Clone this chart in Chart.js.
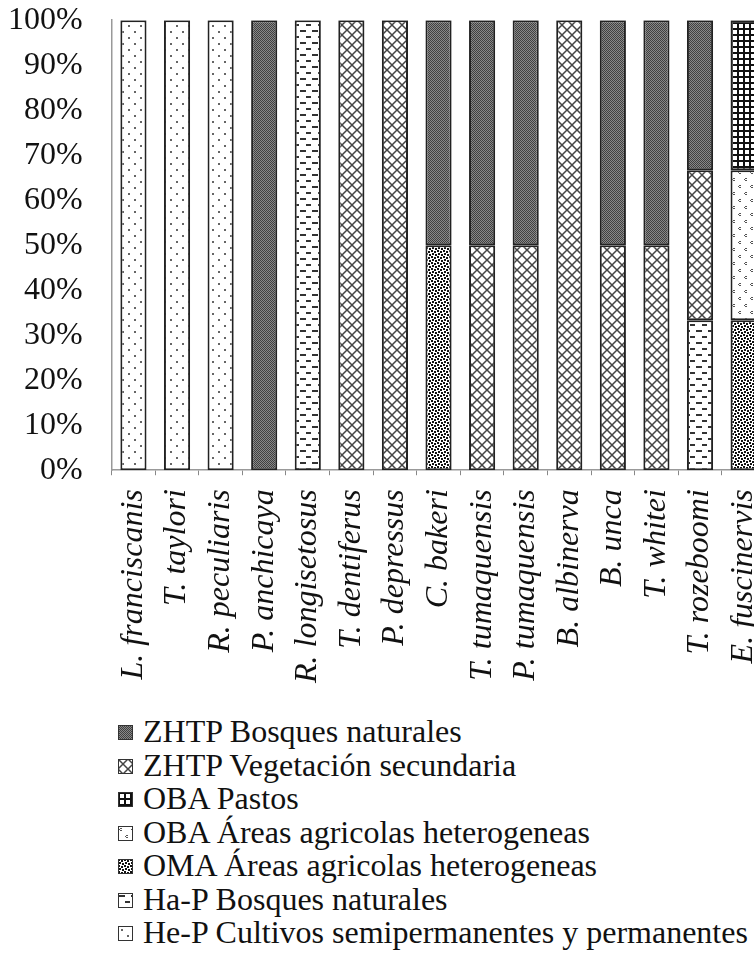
<!DOCTYPE html>
<html>
<head>
<meta charset="utf-8">
<script src="https://cdn.jsdelivr.net/npm/chart.js@4.4.0/dist/chart.umd.min.js"></script>
<style>
    html, body { margin: 0; padding: 0; background: #fff; width: 754px; height: 958px; overflow: hidden; }
    #wrap { position: absolute; left: -13px; top: -20px; width: 809px; height: 717px; }
    #legend { position: absolute; left: 118px; top: 715px; font-family: "Liberation Serif", "Times New Roman", serif; font-size: 32px; color: #111; white-space: nowrap; }
    #legend .row { position: relative; height: 33.5px; }
    #legend canvas { position: absolute; left: 0; top: 10px; }
    #legend span { position: absolute; left: 25px; top: 0; line-height: 33.5px; }
</style>
</head>
<body>
<div id="wrap"><canvas id="chart"></canvas></div>
<div id="legend"></div>

<script>
// categorías (especies)
const species = ['L. franciscanis', 'T. taylori', 'R. peculiaris', 'P. anchicaya', 'R. longisetosus',
    'T. dentiferus', 'P. depressus', 'C. bakeri', 'T. tumaquensis', 'P. tumaquensis',
    'B. albinerva', 'B. unca', 'T. whitei', 'T. rozeboomi', 'E. fuscinervis'];

// porcentajes por cobertura (orden de apilado: de abajo hacia arriba)
const hepCultivos   = [100, 100, 100, 0, 0, 0, 0, 0, 0, 0, 0, 0, 0, 0, 0];
const hapBosques    = [0, 0, 0, 0, 100, 0, 0, 0, 0, 0, 0, 0, 0, 33.33, 0];
const omaAreas      = [0, 0, 0, 0, 0, 0, 0, 50, 0, 0, 0, 0, 0, 0, 33.33];
const obaAreas      = [0, 0, 0, 0, 0, 0, 0, 0, 0, 0, 0, 0, 0, 0, 33.33];
const obaPastos     = [0, 0, 0, 0, 0, 0, 0, 0, 0, 0, 0, 0, 0, 0, 33.34];
const zhtpVegetacion = [0, 0, 0, 0, 0, 100, 100, 0, 50, 50, 100, 50, 50, 33.33, 0];
const zhtpBosques   = [0, 0, 0, 100, 0, 0, 0, 50, 50, 50, 0, 50, 50, 33.34, 0];

const yTicks = [0, 10, 20, 30, 40, 50, 60, 70, 80, 90, 100];

// patrones de relleno tipo Excel
function makeTile(w, h, draw) {
    const c = document.createElement('canvas');
    c.width = w; c.height = h;
    const g = c.getContext('2d');
    g.fillStyle = '#fff';
    g.fillRect(0, 0, w, h);
    draw(g);
    return c;
}

const tiles = {
    bosques: makeTile(2, 2, g => {
        g.fillStyle = '#404040'; g.fillRect(0, 0, 2, 2);
        g.fillStyle = '#888'; g.fillRect(0, 0, 1, 1); g.fillRect(1, 1, 1, 1);
    }),
    vegetacion: makeTile(10, 10, g => {
        g.strokeStyle = '#444'; g.lineWidth = 1.5;
        g.beginPath();
        g.moveTo(-1, -1); g.lineTo(11, 11);
        g.moveTo(11, -1); g.lineTo(-1, 11);
        g.stroke();
    }),
    pastos: makeTile(6, 6, g => {
        g.fillStyle = '#111';
        g.fillRect(0, 0, 6, 2);
        g.fillRect(0, 0, 2, 6);
    }),
    obaAreas: makeTile(12, 14, g => {
        g.fillStyle = '#555';
        g.fillRect(2, 2, 2, 1); g.fillRect(1, 3, 1, 1); g.fillRect(2, 4, 2, 1);
        g.fillRect(8, 9, 2, 1); g.fillRect(7, 10, 1, 1); g.fillRect(8, 11, 2, 1);
    }),
    oma: makeTile(6, 6, g => {
        g.fillStyle = '#111';
        g.fillRect(0, 0, 2, 2); g.fillRect(3, 1, 2, 2);
        g.fillRect(1, 3, 2, 2); g.fillRect(4, 4, 2, 2);
    }),
    hap: makeTile(12, 12, g => {
        g.fillStyle = '#333';
        g.fillRect(1, 2, 6, 2);
        g.fillRect(7, 8, 6, 2);
    }),
    hep: makeTile(12, 12, g => {
        g.fillStyle = '#666';
        g.fillRect(3, 3, 2, 2);
        g.fillRect(9, 9, 2, 2);
    })
};

const ctx = document.getElementById('chart').getContext('2d');
function pat(name) {
    return ctx.createPattern(tiles[name], 'repeat');
}

const series = [
    { label: 'He-P Cultivos semipermanentes y permanentes', data: hepCultivos, tile: 'hep' },
    { label: 'Ha-P Bosques naturales', data: hapBosques, tile: 'hap' },
    { label: 'OMA Áreas agricolas heterogeneas', data: omaAreas, tile: 'oma' },
    { label: 'OBA Áreas agricolas heterogeneas', data: obaAreas, tile: 'obaAreas' },
    { label: 'OBA Pastos', data: obaPastos, tile: 'pastos' },
    { label: 'ZHTP Vegetación secundaria', data: zhtpVegetacion, tile: 'vegetacion' },
    { label: 'ZHTP Bosques naturales', data: zhtpBosques, tile: 'bosques' }
];

const serif = '"Liberation Serif", "Times New Roman", serif';

new Chart(ctx, {
    type: 'bar',
    data: {
        labels: species,
        datasets: series.map(s => ({
            label: s.label,
            data: s.data.map(v => v === 0 ? null : v),
            backgroundColor: pat(s.tile),
            borderColor: '#222',
            borderWidth: 2,
            borderSkipped: false,
            barPercentage: 0.6,
            categoryPercentage: 1
        }))
    },
    options: {
        responsive: true,
        maintainAspectRatio: false,
        animation: false,
        layout: { padding: 0 },
        plugins: {
            legend: { display: false },
            tooltip: { enabled: false }
        },
        scales: {
            x: {
                stacked: true,
                grid: { display: true, drawOnChartArea: false, tickLength: 5, color: '#888' },
                border: { color: '#999', width: 1.5 },
                ticks: {
                    autoSkip: false,
                    minRotation: 90,
                    maxRotation: 90,
                    padding: 14,
                    color: '#111',
                    font: { family: serif, size: 32, style: 'italic' }
                }
            },
            y: {
                stacked: true,
                min: 0,
                max: 100,
                afterBuildTicks: axis => { axis.ticks = yTicks.map(v => ({ value: v })); },
                grid: { display: false },
                border: { color: '#999', width: 1.5 },
                ticks: {
                    padding: 21,
                    color: '#111',
                    font: { family: serif, size: 32 },
                    callback: v => v + '%'
                }
            }
        }
    }
});

// leyenda: en Excel aparece en orden inverso al apilado
const legendEl = document.getElementById('legend');
series.slice().reverse().forEach(s => {
    const row = document.createElement('div');
    row.className = 'row';
    const sw = document.createElement('canvas');
    sw.width = 15; sw.height = 15;
    const g = sw.getContext('2d');
    g.fillStyle = g.createPattern(tiles[s.tile], 'repeat');
    g.fillRect(0, 0, 15, 15);
    g.strokeStyle = '#333';
    g.lineWidth = 1;
    g.strokeRect(0.5, 0.5, 14, 14);
    const txt = document.createElement('span');
    txt.textContent = s.label;
    row.appendChild(sw);
    row.appendChild(txt);
    legendEl.appendChild(row);
});
</script>
</body>
</html>
